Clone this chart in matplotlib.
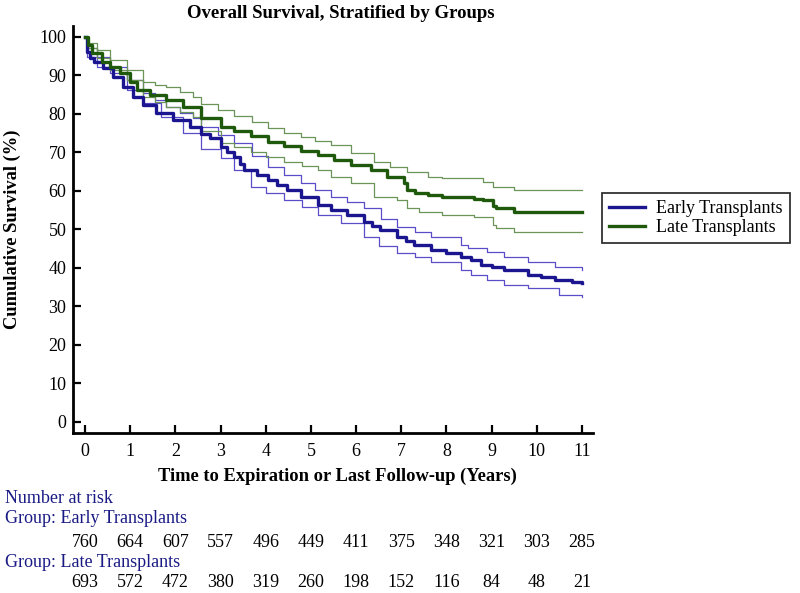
import matplotlib
matplotlib.use("Agg")
import matplotlib.pyplot as plt
import matplotlib.transforms as mtransforms

plt.rcParams['font.family'] = ['Liberation Serif', 'DejaVu Serif']

# Kaplan-Meier estimates (years, survival %)
early_t = [0, 0.04, 0.1, 0.2, 0.4, 0.62, 0.84, 1.07, 1.29, 1.58, 1.95, 2.32, 2.57, 2.76,
           3.01, 3.15, 3.3, 3.42, 3.53, 3.8, 4.04, 4.25, 4.48, 4.78, 5.15, 5.44, 5.8, 6.17,
           6.35, 6.54, 6.9, 7.1, 7.28, 7.65, 8.0, 8.32, 8.54, 8.76, 9.0, 9.28, 9.8, 10.1,
           10.4, 10.77, 11.0]
early_s = [100, 96.2, 94.5, 93.6, 91.9, 89.7, 87.1, 84.5, 82.3, 80.2, 78.4, 76.7, 74.8, 73.8,
           71.5, 70.2, 68.9, 67.0, 65.5, 64.2, 62.9, 61.5, 60.3, 58.5, 56.4, 55.1, 53.8, 52.0,
           51.0, 49.9, 48.1, 47.0, 46.0, 44.7, 43.8, 42.9, 42.1, 40.8, 40.2, 39.5, 38.2, 37.7,
           36.9, 36.2, 36.0]

early_up_t = [0, 0.04, 0.26, 0.55, 0.92, 1.29, 1.55, 1.8, 2.1, 2.4, 2.57, 2.95, 3.3, 3.7,
              4.04, 4.4, 4.78, 5.1, 5.44, 5.8, 6.17, 6.55, 6.9, 7.3, 7.65, 8.32, 8.47, 8.9,
              9.28, 9.8, 10.4, 11.0]
early_up_s = [100, 97.0, 94.9, 92.3, 88.8, 85.4, 83.5, 81.9, 80.3, 78.9, 76.7, 74.6, 72.4, 69.0,
              66.3, 64.0, 62.0, 60.2, 58.5, 57.0, 55.5, 52.8, 50.7, 49.3, 48.1, 46.0, 45.1, 44.0,
              42.9, 41.6, 40.3, 39.5]

early_lo_t = [0, 0.04, 0.26, 0.55, 0.92, 1.29, 1.69, 2.17, 2.57, 3.01, 3.3, 3.67, 4.0, 4.41,
              4.8, 5.15, 5.66, 6.17, 6.5, 6.9, 7.3, 7.65, 8.32, 8.54, 8.9, 9.28, 9.8, 10.5, 11.0]
early_lo_s = [100, 94.9, 92.3, 90.6, 86.2, 82.8, 79.3, 75.0, 71.0, 68.5, 65.5, 61.1, 59.5, 57.7,
              55.8, 53.8, 51.6, 48.1, 45.8, 43.8, 42.8, 41.6, 39.5, 38.2, 36.8, 35.6, 34.7, 33.0,
              32.5]

late_t = [0, 0.07, 0.15, 0.37, 0.55, 0.77, 0.99, 1.14, 1.44, 1.8, 2.17, 2.57, 3.01, 3.3,
          3.67, 4.04, 4.41, 4.78, 5.15, 5.52, 5.88, 6.33, 6.69, 7.06, 7.13, 7.3, 7.6, 7.9,
          8.32, 8.6, 8.8, 9.02, 9.1, 9.5, 11.0]
late_s = [100, 97.9, 95.8, 93.6, 92.3, 90.6, 88.4, 86.2, 84.9, 83.6, 81.9, 79.0, 76.5, 75.5,
          74.2, 72.8, 71.7, 70.4, 69.4, 68.1, 66.8, 65.5, 63.7, 62.0, 60.3, 59.4, 59.0, 58.5,
          58.5, 57.9, 57.5, 56.1, 55.5, 54.6, 54.6]

late_up_t = [0, 0.07, 0.26, 0.55, 0.92, 1.29, 1.55, 1.8, 2.1, 2.4, 2.57, 2.95, 3.3, 3.7,
             4.04, 4.4, 4.78, 5.1, 5.44, 5.88, 6.4, 6.75, 7.13, 7.6, 7.9, 8.32, 8.8, 9.02,
             9.5, 11.0]
late_up_s = [100, 98.4, 96.6, 94.0, 91.4, 88.4, 87.6, 87.1, 85.8, 84.5, 82.5, 81.0, 79.5, 77.8,
             76.3, 75.0, 74.0, 73.0, 72.0, 69.8, 67.6, 66.3, 65.0, 63.7, 63.3, 63.3, 62.4, 61.1,
             60.1, 60.1]

late_lo_t = [0, 0.07, 0.26, 0.55, 0.92, 1.29, 1.55, 1.8, 2.1, 2.4, 2.57, 3.01, 3.3, 3.67,
             4.0, 4.41, 4.8, 5.15, 5.44, 5.88, 6.4, 6.9, 7.13, 7.4, 7.9, 8.32, 8.6, 9.02,
             9.1, 9.5, 11.0]
late_lo_s = [100, 97.0, 94.5, 91.4, 88.8, 84.5, 83.2, 81.9, 80.5, 79.3, 75.5, 72.4, 71.3, 70.2,
             68.9, 67.6, 66.5, 65.5, 63.7, 62.0, 58.5, 57.7, 55.5, 54.6, 53.8, 53.8, 53.2, 51.2,
             50.3, 49.2, 49.2]

years = list(range(12))
risk_early = [760, 664, 607, 557, 496, 449, 411, 375, 348, 321, 303, 285]
risk_late = [693, 572, 472, 380, 319, 260, 198, 152, 116, 84, 48, 21]

blue, blue_ci = '#1c1590', '#5a4ec8'
green, green_ci = '#1f5a0c', '#6a9458'
navy = '#1a1a85'

fig = plt.figure(figsize=(8, 5.93), dpi=100)
ax = fig.add_axes([0.0916, 0.2698, 0.741 - 0.0916, 0.956 - 0.2698])

ax.step(early_up_t, early_up_s, where='post', color=blue_ci, lw=0.9)
ax.step(early_lo_t, early_lo_s, where='post', color=blue_ci, lw=0.9)
ax.step(late_up_t, late_up_s, where='post', color=green_ci, lw=0.9)
ax.step(late_lo_t, late_lo_s, where='post', color=green_ci, lw=0.9)
ax.step(early_t, early_s, where='post', color=blue, lw=2.4, label='Early Transplants')
ax.step(late_t, late_s, where='post', color=green, lw=2.4, label='Late Transplants')

ax.set_xlim(-0.26, 11.24)
ax.set_ylim(-2.9, 102.8)
ax.set_xticks(years)
ax.set_yticks(range(0, 101, 10))
for s in ['top', 'right']:
    ax.spines[s].set_visible(False)
for s in ['left', 'bottom']:
    ax.spines[s].set_linewidth(2)
ax.tick_params(direction='in', length=6, width=1.6, labelsize=13)
ax.tick_params(axis='x', pad=7)
ax.tick_params(axis='y', pad=5)

fig.text(0.426, 0.978, 'Overall Survival, Stratified by Groups', ha='center', va='center',
         fontsize=13.5, fontweight='bold')
fig.text(0.422, 0.196, 'Time to Expiration or Last Follow-up (Years)', ha='center', va='center',
         fontsize=13.3, fontweight='bold')
fig.text(0.015, 0.613, 'Cumulative Survival (%)', ha='center', va='center', rotation=90,
         fontsize=13.3, fontweight='bold')

leg = fig.legend(loc='upper left', bbox_to_anchor=(0.7525, 0.6745), borderaxespad=0,
                 fontsize=13, frameon=True, fancybox=False, edgecolor='black',
                 handlelength=2.0, handletextpad=0.6, labelspacing=0.1, borderpad=0.4)
leg.get_frame().set_linewidth(1.3)

# number-at-risk table
fig.text(0.006, 0.160, 'Number at risk', color=navy, fontsize=13, va='center')
fig.text(0.006, 0.125, 'Group: Early Transplants', color=navy, fontsize=13, va='center')
fig.text(0.006, 0.051, 'Group: Late Transplants', color=navy, fontsize=13, va='center')
trans = mtransforms.blended_transform_factory(ax.transData, fig.transFigure)
for x, a, b in zip(years, risk_early, risk_late):
    ax.text(x, 0.086, str(a), transform=trans, ha='center', va='center', fontsize=13, clip_on=False)
    ax.text(x, 0.017, str(b), transform=trans, ha='center', va='center', fontsize=13, clip_on=False)

fig.savefig('out.png', dpi=100)
